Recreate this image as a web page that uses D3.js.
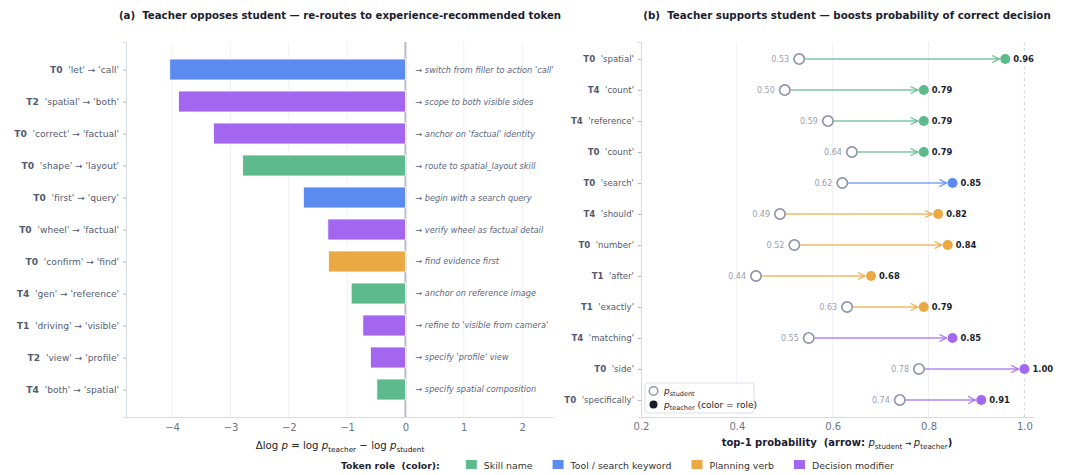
<!DOCTYPE html>
<html lang="en">
<head>
<meta charset="utf-8">
<title></title>
<script src="https://cdn.jsdelivr.net/npm/d3@7"></script>
<style>
  body { margin: 0; background: #fff; }
  text { font-family: "DejaVu Sans", sans-serif; }
</style>
</head>
<body>
<script>
var w = 1080;
var h = 475;

// panel (a): teacher opposes student
var aStep = ["T0", "T2", "T0", "T0", "T0", "T0", "T0", "T4", "T1", "T2", "T4"];
var aFrom = ["let", "spatial", "correct", "shape", "first", "wheel", "confirm", "gen", "driving", "view", "both"];
var aTo = ["call", "both", "factual", "layout", "query", "factual", "find", "reference", "visible", "profile", "spatial"];
var aDelta = [-4.04, -3.89, -3.29, -2.79, -1.75, -1.33, -1.32, -0.93, -0.73, -0.60, -0.49];
var aRole = ["tool", "mod", "mod", "skill", "tool", "mod", "plan", "skill", "mod", "mod", "skill"];
var aNote = [
  "switch from filler to action 'call'",
  "scope to both visible sides",
  "anchor on 'factual' identity",
  "route to spatial_layout skill",
  "begin with a search query",
  "verify wheel as factual detail",
  "find evidence first",
  "anchor on reference image",
  "refine to 'visible from camera'",
  "specify 'profile' view",
  "specify spatial composition"
];
var aTicks = [-4, -3, -2, -1, 0, 1, 2];

// panel (b): teacher supports student
var bStep = ["T0", "T4", "T4", "T0", "T0", "T4", "T0", "T1", "T1", "T4", "T0", "T0"];
var bToken = ["spatial", "count", "reference", "count", "search", "should", "number", "after", "exactly", "matching", "side", "specifically"];
var pStudent = [0.53, 0.50, 0.59, 0.64, 0.62, 0.49, 0.52, 0.44, 0.63, 0.55, 0.78, 0.74];
var pTeacher = [0.96, 0.79, 0.79, 0.79, 0.85, 0.82, 0.84, 0.68, 0.79, 0.85, 1.00, 0.91];
var bRole = ["skill", "skill", "skill", "skill", "tool", "plan", "plan", "plan", "plan", "mod", "mod", "mod"];
var bTicks = [0.2, 0.4, 0.6, 0.8, 1.0];

var roleKeys = ["skill", "tool", "plan", "mod"];
var roleNames = ["Skill name", "Tool / search keyword", "Planning verb", "Decision modifier"];
var roleColors = ["#5cba8c", "#5b8bef", "#eaa942", "#a366ef"];

var color = d3.scaleOrdinal().domain(roleKeys).range(roleColors);

var svg = d3.select("body").append("svg")
  .attr("width", w)
  .attr("height", h);

var plotTop = 42, plotBottom = 417;
var gridCol = "#eef0f4", spineCol = "#d6dae3", labelCol = "#525a70", tickCol = "#6b7385";

// ---------- panel (a) ----------
var xA = d3.scaleLinear().domain([-4.79, 2.53]).range([126, 553]);
var yA = d3.scalePoint().domain(d3.range(aDelta.length)).range([plotTop, plotBottom]).padding(0.86);
var barH = 21;

svg.append("g").selectAll("line")
  .data(aTicks.filter(function (t) { return t != 0; }))
  .enter().append("line")
  .attr("x1", function (d) { return xA(d); })
  .attr("x2", function (d) { return xA(d); })
  .attr("y1", plotTop).attr("y2", plotBottom)
  .attr("stroke", gridCol);

svg.append("line")
  .attr("x1", xA(0)).attr("x2", xA(0))
  .attr("y1", plotTop).attr("y2", plotBottom)
  .attr("stroke", "#b9bdc7").attr("stroke-width", 2);

svg.append("g").selectAll("rect")
  .data(aDelta)
  .enter().append("rect")
  .attr("x", function (d) { return xA(d); })
  .attr("y", function (d, i) { return yA(i) - barH / 2; })
  .attr("width", function (d) { return xA(0) - xA(d); })
  .attr("height", barH)
  .attr("fill", function (d, i) { return color(aRole[i]); })
  .attr("stroke", "#fff").attr("stroke-width", 0.8);

svg.append("g").selectAll("text")
  .data(aNote)
  .enter().append("text")
  .attr("x", xA(0) + 10)
  .attr("y", function (d, i) { return yA(i) + 3; })
  .attr("font-size", 8.2)
  .attr("font-style", "italic")
  .attr("fill", "#5d667c")
  .text(function (d) { return "\u2192 " + d; });

var axA = svg.append("g")
  .attr("transform", "translate(0," + plotBottom + ")")
  .call(d3.axisBottom(xA).tickValues(aTicks).tickSize(0).tickPadding(7)
    .tickFormat(function (d) { return d < 0 ? "\u2212" + Math.abs(d) : d; }));
axA.selectAll("text").attr("font-size", 10).attr("fill", tickCol).attr("font-family", "DejaVu Sans");
axA.select(".domain").attr("stroke", spineCol);

var ayA = svg.append("g")
  .attr("transform", "translate(126,0)")
  .call(d3.axisLeft(yA).tickSize(3).tickPadding(4).tickFormat(""));
ayA.select(".domain").attr("stroke", spineCol);
ayA.selectAll("line").attr("stroke", "#b0b5c2");
ayA.selectAll(".tick text").each(function (d) {
  var t = d3.select(this).attr("font-size", 9.1).attr("fill", labelCol).attr("font-family", "DejaVu Sans");
  t.append("tspan").attr("font-weight", "bold").text(aStep[d]);
  t.append("tspan").attr("xml:space", "preserve").text("  '" + aFrom[d] + "' \u2192 '" + aTo[d] + "'");
});

var xlabA = svg.append("text")
  .attr("x", 340).attr("y", 449)
  .attr("text-anchor", "middle")
  .attr("font-size", 10.2)
  .attr("fill", "#222");
xlabA.append("tspan").text("\u0394log ");
xlabA.append("tspan").attr("font-style", "italic").text("p");
xlabA.append("tspan").attr("xml:space", "preserve").text(" = log ");
xlabA.append("tspan").attr("font-style", "italic").text("p");
xlabA.append("tspan").attr("font-size", 7.3).attr("dy", 2.5).text("teacher");
xlabA.append("tspan").attr("dy", -2.5).attr("xml:space", "preserve").text(" \u2212 log ");
xlabA.append("tspan").attr("font-style", "italic").text("p");
xlabA.append("tspan").attr("font-size", 7.3).attr("dy", 2.5).text("student");

svg.append("text")
  .attr("x", 340).attr("y", 19)
  .attr("text-anchor", "middle")
  .attr("font-size", 10.2).attr("font-weight", "bold").attr("fill", "#1b1d2e")
  .attr("xml:space", "preserve")
  .text("(a)  Teacher opposes student \u2014 re-routes to experience-recommended token");

// ---------- panel (b) ----------
var xB = d3.scaleLinear().domain([0.2, 1.02]).range([641, 1034]);
var yB = d3.scalePoint().domain(d3.range(pStudent.length)).range([plotTop, plotBottom]).padding(0.55);

svg.append("g").selectAll("line")
  .data([0.4, 0.6, 0.8])
  .enter().append("line")
  .attr("x1", function (d) { return xB(d); })
  .attr("x2", function (d) { return xB(d); })
  .attr("y1", plotTop).attr("y2", plotBottom)
  .attr("stroke", gridCol);

svg.append("line")
  .attr("x1", xB(1)).attr("x2", xB(1))
  .attr("y1", plotTop).attr("y2", plotBottom)
  .attr("stroke", "#d4d7de").attr("stroke-dasharray", "3,3");

var defs = svg.append("defs");
roleKeys.forEach(function (k) {
  defs.append("marker")
    .attr("id", "arr-" + k)
    .attr("viewBox", "0 0 10 10")
    .attr("refX", 9).attr("refY", 5)
    .attr("markerWidth", 9).attr("markerHeight", 9)
    .attr("markerUnits", "userSpaceOnUse")
    .attr("orient", "auto")
    .append("path")
    .attr("d", "M1,1 L9,5 L1,9")
    .attr("fill", "none")
    .attr("stroke", color(k))
    .attr("stroke-opacity", 0.8)
    .attr("stroke-width", 1.6);
});

var rows = svg.append("g").selectAll("g")
  .data(pStudent)
  .enter().append("g");

rows.append("line")
  .attr("x1", function (d) { return xB(d) + 6; })
  .attr("x2", function (d, i) { return xB(pTeacher[i]) - 6; })
  .attr("y1", function (d, i) { return yB(i); })
  .attr("y2", function (d, i) { return yB(i); })
  .attr("stroke", function (d, i) { return color(bRole[i]); })
  .attr("stroke-opacity", 0.8)
  .attr("stroke-width", 1.6)
  .attr("marker-end", function (d, i) { return "url(#arr-" + bRole[i] + ")"; });

rows.append("circle")
  .attr("cx", function (d) { return xB(d); })
  .attr("cy", function (d, i) { return yB(i); })
  .attr("r", 5.2)
  .attr("fill", "#fff")
  .attr("stroke", "#9096aa")
  .attr("stroke-width", 1.7);

rows.append("circle")
  .attr("cx", function (d, i) { return xB(pTeacher[i]); })
  .attr("cy", function (d, i) { return yB(i); })
  .attr("r", 5)
  .attr("fill", function (d, i) { return color(bRole[i]); });

rows.append("text")
  .attr("x", function (d) { return xB(d) - 10; })
  .attr("y", function (d, i) { return yB(i) + 3; })
  .attr("text-anchor", "end")
  .attr("font-size", 8)
  .attr("fill", "#9aa1b3")
  .text(function (d) { return d.toFixed(2); });

rows.append("text")
  .attr("x", function (d, i) { return xB(pTeacher[i]) + 8; })
  .attr("y", function (d, i) { return yB(i) + 3; })
  .attr("font-size", 8.4)
  .attr("font-weight", "bold")
  .attr("fill", "#1b1d2e")
  .text(function (d, i) { return pTeacher[i].toFixed(2); });

var axB = svg.append("g")
  .attr("transform", "translate(0," + plotBottom + ")")
  .call(d3.axisBottom(xB).tickValues(bTicks).tickSize(0).tickPadding(6).tickFormat(d3.format(".1f")));
axB.selectAll("text").attr("font-size", 10).attr("fill", tickCol).attr("font-family", "DejaVu Sans");
axB.select(".domain").attr("stroke", spineCol);

var ayB = svg.append("g")
  .attr("transform", "translate(641,0)")
  .call(d3.axisLeft(yB).tickSize(3).tickPadding(4).tickFormat(""));
ayB.select(".domain").attr("stroke", spineCol);
ayB.selectAll("line").attr("stroke", "#b0b5c2");
ayB.selectAll(".tick text").each(function (d) {
  var t = d3.select(this).attr("font-size", 8.6).attr("fill", labelCol).attr("font-family", "DejaVu Sans");
  t.append("tspan").attr("font-weight", "bold").text(bStep[d]);
  t.append("tspan").attr("xml:space", "preserve").text("  '" + bToken[d] + "'");
});

var xlabB = svg.append("text")
  .attr("x", 837).attr("y", 446)
  .attr("text-anchor", "middle")
  .attr("font-size", 10).attr("font-weight", "bold")
  .attr("fill", "#1b1d2e");
xlabB.append("tspan").attr("xml:space", "preserve").text("top-1 probability  (arrow: ");
xlabB.append("tspan").attr("font-style", "italic").attr("font-weight", "normal").text("p");
xlabB.append("tspan").attr("font-size", 7.2).attr("font-weight", "normal").attr("dy", 2.5).text("student");
xlabB.append("tspan").attr("dy", -2.5).attr("font-size", 7.5).text(" \u2192 ");
xlabB.append("tspan").attr("font-style", "italic").attr("font-weight", "normal").text("p");
xlabB.append("tspan").attr("font-size", 7.2).attr("font-weight", "normal").attr("dy", 2.5).text("teacher");
xlabB.append("tspan").attr("dy", -2.5).text(")");

svg.append("text")
  .attr("x", 847).attr("y", 19)
  .attr("text-anchor", "middle")
  .attr("font-size", 10.3).attr("font-weight", "bold").attr("fill", "#1b1d2e")
  .attr("xml:space", "preserve")
  .text("(b)  Teacher supports student \u2014 boosts probability of correct decision");

// legend inside panel (b)
var lg = svg.append("g").attr("transform", "translate(645,383)");
lg.append("rect")
  .attr("width", 109).attr("height", 30).attr("rx", 3)
  .attr("fill", "#fff").attr("fill-opacity", 0.9)
  .attr("stroke", "#dcdfe6");
lg.append("circle").attr("cx", 8.5).attr("cy", 8).attr("r", 4.3)
  .attr("fill", "#fff").attr("stroke", "#9096aa").attr("stroke-width", 1.5);
lg.append("circle").attr("cx", 8.5).attr("cy", 21.5).attr("r", 4)
  .attr("fill", "#1b1d2e");
var l1 = lg.append("text").attr("x", 19).attr("y", 11).attr("font-size", 9).attr("fill", "#222");
l1.append("tspan").attr("font-style", "italic").text("p");
l1.append("tspan").attr("font-size", 6.5).attr("dy", 2).text("student");
var l2 = lg.append("text").attr("x", 19).attr("y", 24.5).attr("font-size", 9).attr("fill", "#222");
l2.append("tspan").attr("font-style", "italic").text("p");
l2.append("tspan").attr("font-size", 6.5).attr("dy", 2).text("teacher");
l2.append("tspan").attr("dy", -2).attr("xml:space", "preserve").text(" (color = role)");

// ---------- role legend ----------
var leg = svg.append("g").attr("transform", "translate(0,469)");
var lx = 341;
var lt = leg.append("text").attr("x", lx).attr("y", 0)
  .attr("font-size", 9.3).attr("font-weight", "bold").attr("fill", "#1b1d2e")
  .attr("xml:space", "preserve")
  .text("Token role  (color):");
lx += lt.node().getComputedTextLength() + 26;
roleKeys.forEach(function (k, i) {
  leg.append("rect").attr("x", lx).attr("y", -9).attr("width", 11).attr("height", 9)
    .attr("fill", roleColors[i]);
  lx += 18;
  var t = leg.append("text").attr("x", lx).attr("y", 0)
    .attr("font-size", 9.4).attr("fill", "#333")
    .text(roleNames[i]);
  lx += t.node().getComputedTextLength() + 20;
});
</script>
</body>
</html>
